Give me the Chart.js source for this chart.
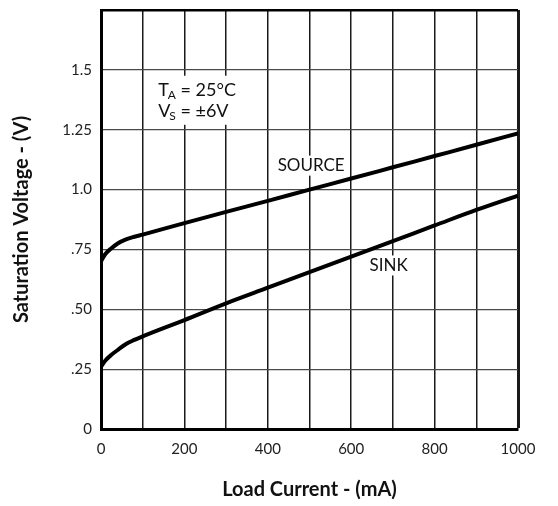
<!DOCTYPE html>
<html>
<head>
<meta charset="utf-8">
<script src="https://cdn.jsdelivr.net/npm/chart.js@4/dist/chart.umd.min.js"></script>
<style>
  body { margin: 0; background: #fff; }
  canvas { display: block; }
</style>
</head>
<body>
<canvas id="chart" width="558" height="506"></canvas>
<script>
// load current (mA) and saturation voltage (V)
const loadCurrent = [0, 10, 25, 40, 60, 80, 100, 200, 300, 400, 500, 600, 700, 800, 900, 1000];
const sourceVolts = [0.70, 0.73, 0.755, 0.775, 0.792, 0.803, 0.812, 0.86, 0.907, 0.953, 1.0, 1.046, 1.093, 1.14, 1.187, 1.235];
const sinkVolts = [0.26, 0.285, 0.31, 0.33, 0.355, 0.372, 0.387, 0.455, 0.525, 0.59, 0.655, 0.72, 0.785, 0.85, 0.915, 0.975];

const yTickLabels = ['0', '.25', '.50', '.75', '1.0', '1.25', '1.5', ''];
const xTickLabels = ['0', '', '200', '', '400', '', '600', '', '800', '', '1000'];

const seriesNames = ['SOURCE', 'SINK'];
const conditionLines = [['T', 'A', ' = 25°C'], ['V', 'S', ' = ±6V']];

const toPoints = (ys) => loadCurrent.map((x, i) => ({ x: x, y: ys[i] }));

const tickFont = { family: 'Lato', size: 15 };

// white patch behind a piece of text so the grid does not run through it
function clearBehind(ctx, x0, x1, yTop, yBottom) {
    ctx.save();
    ctx.fillStyle = '#fff';
    ctx.fillRect(x0, yTop, x1 - x0, yBottom - yTop);
    ctx.restore();
}

// text written inside the plot, placed in data units, drawn under the curves
const labelsPlugin = {
    id: 'labels',
    beforeDatasetsDraw(chart) {
        const { ctx, scales } = chart;
        const x = scales.x, y = scales.y;
        ctx.save();
        ctx.fillStyle = '#111';
        ctx.textBaseline = 'alphabetic';

        // T_A / V_S block
        const left = x.getPixelForValue(137);
        const baselines = [y.getPixelForValue(1.392), y.getPixelForValue(1.304)];
        ctx.font = '18px Lato';
        const blockWidth = ctx.measureText('TA = 25°C').width + 4;
        clearBehind(ctx, left - 3, left + blockWidth, baselines[0] - 20, baselines[1] + 8);
        conditionLines.forEach((parts, i) => {
            let px = left;
            const by = baselines[i];
            ctx.font = '18px Lato';
            ctx.textAlign = 'left';
            ctx.fillText(parts[0], px, by);
            px += ctx.measureText(parts[0]).width;
            ctx.font = '12px Lato';
            ctx.fillText(parts[1], px - 1, by + 3);
            px += ctx.measureText(parts[1]).width - 1;
            ctx.font = '18px Lato';
            ctx.fillText(parts[2], px, by);
        });

        // curve names
        ctx.font = '17px Lato';
        ctx.textAlign = 'center';
        ctx.textBaseline = 'middle';
        const names = [
            [seriesNames[0], x.getPixelForValue(504), y.getPixelForValue(1.10)],
            [seriesNames[1], x.getPixelForValue(690), y.getPixelForValue(0.683)]
        ];
        names.forEach(([text, cx, cy]) => {
            const w = ctx.measureText(text).width;
            clearBehind(ctx, cx - w / 2 - 3, cx + w / 2 + 3, cy - 10, cy + 10);
            ctx.fillText(text, cx, cy);
        });
        ctx.restore();
    }
};

new Chart(document.getElementById('chart'), {
    type: 'line',
    data: {
        datasets: [
            {
                label: seriesNames[0],
                data: toPoints(sourceVolts),
                borderColor: '#000',
                borderWidth: 4,
                pointRadius: 0,
                cubicInterpolationMode: 'monotone'
            },
            {
                label: seriesNames[1],
                data: toPoints(sinkVolts),
                borderColor: '#000',
                borderWidth: 4,
                pointRadius: 0,
                cubicInterpolationMode: 'monotone'
            }
        ]
    },
    options: {
        responsive: false,
        animation: false,
        events: [],
        layout: { padding: { left: 0, top: 10, right: 40, bottom: 0 } },
        plugins: {
            legend: { display: false },
            tooltip: { enabled: false }
        },
        scales: {
            x: {
                type: 'linear',
                min: 0,
                max: 1000,
                afterFit: (scale) => {
                    scale.height = 77;
                    scale.paddingLeft = 0;
                    scale.paddingRight = 0;
                },
                ticks: {
                    stepSize: 100,
                    autoSkip: false,
                    maxRotation: 0,
                    padding: 11,
                    color: '#222',
                    font: tickFont,
                    callback: (value, index) => xTickLabels[index]
                },
                grid: {
                    drawTicks: false,
                    color: '#1a1a1a',
                    lineWidth: (ctx) => (ctx.tick && ctx.tick.value === 1000 ? 3 : 1.5)
                },
                border: { display: true, color: '#000', width: 3 },
                title: {
                    display: true,
                    text: 'Load Current - (mA)',
                    color: '#111',
                    font: { family: 'Lato', size: 20, weight: 'bold' },
                    padding: { top: 0, bottom: 4 }
                }
            },
            y: {
                min: 0,
                max: 1.75,
                afterFit: (scale) => {
                    scale.width = 101;
                    scale.paddingTop = 0;
                    scale.paddingBottom = 0;
                },
                ticks: {
                    stepSize: 0.25,
                    autoSkip: false,
                    padding: 9,
                    color: '#222',
                    font: tickFont,
                    callback: (value, index) => yTickLabels[index]
                },
                grid: {
                    drawTicks: false,
                    color: (ctx) => (ctx.tick && ctx.tick.value === 1.75 ? '#000' : '#4a4a4a'),
                    lineWidth: (ctx) => (ctx.tick && ctx.tick.value === 1.75 ? 2.5 : 1.2)
                },
                border: { display: true, color: '#000', width: 3 },
                title: {
                    display: true,
                    text: 'Saturation Voltage - (V)',
                    color: '#111',
                    font: { family: 'Lato', size: 20, weight: 'bold' },
                    padding: { top: 10, bottom: 0 }
                }
            }
        }
    },
    plugins: [labelsPlugin]
});
</script>
</body>
</html>
